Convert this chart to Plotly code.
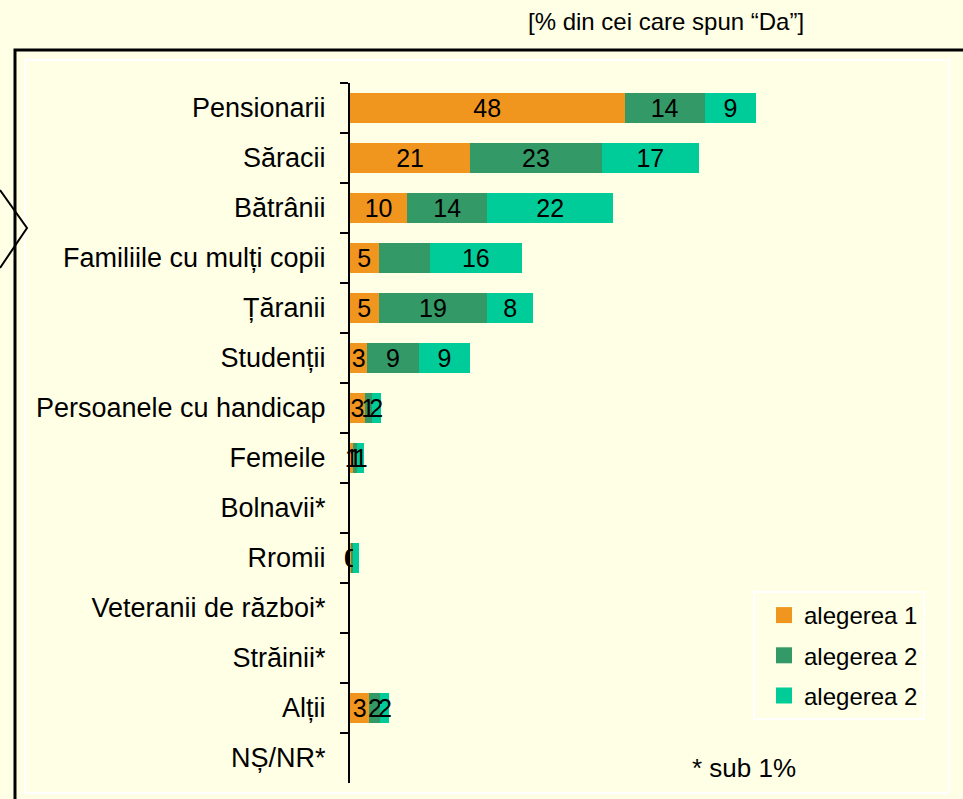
import plotly.graph_objects as go

categories = ["Pensionarii", "Săracii", "Bătrânii", "Familiile cu mulți copii", "Țăranii",
              "Studenții", "Persoanele cu handicap", "Femeile", "Bolnavii*", "Rromii",
              "Veteranii de război*", "Străinii*", "Alții", "NȘ/NR*"]

alegerea1 = [48, 21, 10, 5, 5, 3, 2.6, 0.6, 0, 0.2, 0, 0, 3.4, 0]
alegerea2 = [14, 23, 14, 9, 19, 9, 1.2, 0.6, 0, 0.3, 0, 0, 1.9, 0]
alegerea3 = [9, 17, 22, 16, 8, 9, 1.6, 1.3, 0, 1.0, 0, 0, 1.6, 0]

labels1 = ["48", "21", "10", "5", "5", "3", "3", "1", "", "0", "", "", "3", ""]
labels2 = ["14", "23", "14", "", "19", "9", "1", "1", "", "0", "", "", "2", ""]
labels3 = ["9", "17", "22", "16", "8", "9", "2", "1", "", "", "", "", "2", ""]

series_names = ["alegerea 1", "alegerea 2", "alegerea 2"]
colors = ["#F0961E", "#339966", "#00CC99"]

title_text = "[% din cei care spun “Da”]"
note_text = "* sub 1%"

W, H = 963, 799
L, R, T, B = 350, 23, 83, 16
PW, PH = W - L - R, H - T - B
FONT = "Liberation Sans, Arial, sans-serif"


def px(x):
    return (x - L) / PW


def py(y):
    return 1 - (y - T) / PH


fig = go.Figure()
for i, (vals, labs) in enumerate([(alegerea1, labels1), (alegerea2, labels2), (alegerea3, labels3)]):
    fig.add_trace(go.Bar(
        y=categories, x=vals, orientation="h", name=series_names[i],
        marker=dict(color=colors[i], line=dict(width=0)),
        text=labs, textposition="inside", insidetextanchor="middle",
        textangle=0, constraintext="none", cliponaxis=False,
        textfont=dict(family=FONT, size=25, color="black"),
        legendgroup="g%d" % i, showlegend=False, hoverinfo="x+y",
    ))
# legend entries with larger square keys
for i in range(3):
    fig.add_trace(go.Scatter(
        x=[None], y=[None], mode="markers", name=series_names[i],
        marker=dict(symbol="square", size=18, color=colors[i], line=dict(width=0)),
        legendgroup="g%d" % i, showlegend=True, hoverinfo="skip",
    ))

fig.update_layout(
    width=W, height=H,
    margin=dict(l=L, r=R, t=T, b=B),
    paper_bgcolor="#FFFFE6", plot_bgcolor="#FFFFE6",
    barmode="stack", bargap=0.4,
    font=dict(family=FONT, color="black"),
    showlegend=True,
    legend=dict(
        x=px(753), y=py(591), xanchor="left", yanchor="top",
        bgcolor="rgba(0,0,0,0)", bordercolor="white", borderwidth=2,
        font=dict(family=FONT, size=24, color="black"),
        traceorder="grouped", tracegroupgap=6, itemsizing="trace",
        indentation=9,
    ),
    xaxis=dict(range=[0, PW / 5.72], visible=False, fixedrange=True),
    yaxis=dict(
        categoryorder="array", categoryarray=categories, autorange="reversed",
        showline=True, linecolor="black", linewidth=2,
        ticks="outside", ticklen=8, tickwidth=2, tickcolor="black",
        tickson="boundaries", showgrid=False, zeroline=False,
        tickfont=dict(family=FONT, size=27, color="black"),
        ticklabelstandoff=17, fixedrange=True,
    ),
    shapes=[
        dict(type="path", xref="paper", yref="paper",
             path="M %f %f L %f %f L %f %f" % (px(15), py(805), px(15), py(50), px(970), py(50)),
             line=dict(color="black", width=3)),
        dict(type="rect", xref="paper", yref="paper",
             x0=px(25), y0=py(793), x1=px(949), y1=py(60),
             line=dict(color="white", width=2), layer="below"),
        dict(type="path", xref="paper", yref="paper",
             path="M %f %f L %f %f L %f %f" % (px(0), py(190), px(27), py(228), px(0), py(268)),
             line=dict(color="black", width=2)),
    ],
    annotations=[
        dict(text=title_text, xref="paper", yref="paper", x=px(666), y=py(22),
             xanchor="center", yanchor="middle", showarrow=False,
             font=dict(family=FONT, size=24, color="black")),
        dict(text=note_text, xref="paper", yref="paper", x=px(744), y=py(768),
             xanchor="center", yanchor="middle", showarrow=False,
             font=dict(family=FONT, size=26, color="black")),
    ],
)

fig.write_html(
    "out.html",
    config={"displayModeBar": False},
    post_script="document.body.style.margin='0';document.body.style.padding='0';document.body.style.overflow='hidden';",
)
